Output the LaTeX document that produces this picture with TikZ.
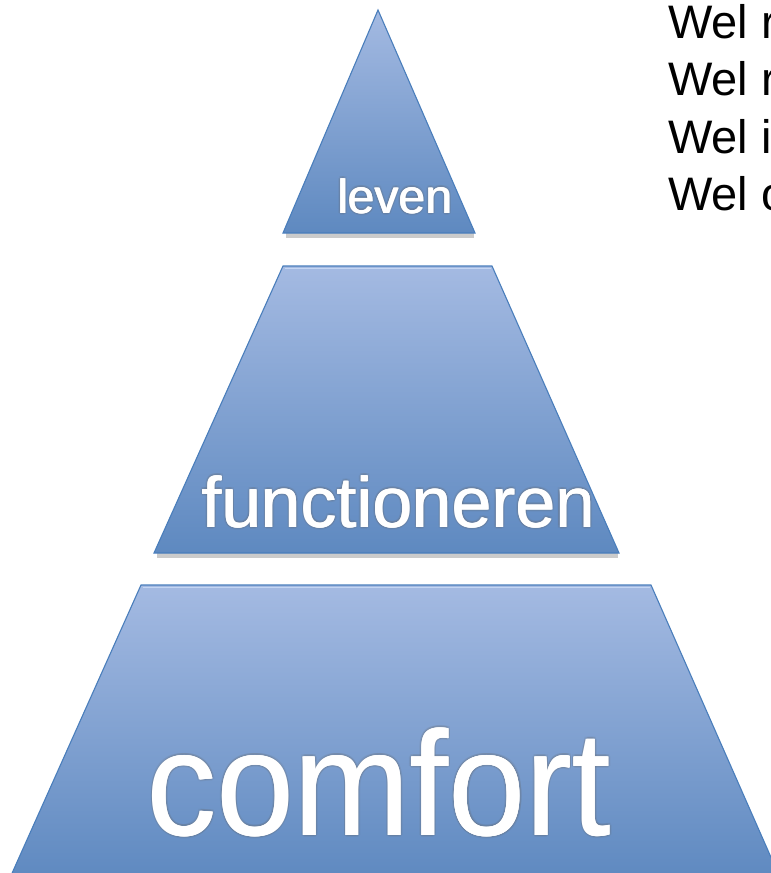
\documentclass[tikz,border=0pt]{standalone}
\usepackage{fontspec}
\setmainfont{Liberation Sans}
\usetikzlibrary{calc}
\definecolor{blueTop}{RGB}{164,186,226}
\definecolor{blueBot}{RGB}{94,137,192}
\definecolor{blueEdge}{RGB}{74,126,187}
\definecolor{blueHi}{RGB}{196,214,243}
\tikzset{
  layer/.style={top color=blueTop, bottom color=blueBot, draw=blueEdge, line width=1.1pt, line join=miter},
  layershadow/.style={fill=black!45, opacity=0.45},
  label/.style={inner sep=0pt, anchor=base, text=white},
  glow/.style={inner sep=0pt, anchor=base, text=black!60, opacity=0.12},
  thick label/.style={inner sep=0pt, anchor=base, text=white},
  side/.style={inner sep=0pt, anchor=base west, text=black, font=\fontsize{47}{56}\selectfont}
}
\newcommand{\glowlabel}[4]{% name, position, font, text
  \foreach \dx/\dy in {-2/0,2/0,0/-2,0/2,-1.5/-1.5,1.5/1.5,-1.5/1.5,1.5/-1.5}{
    \node[glow, font=#3] at ($(#2)+(\dx,\dy)$) {#4};
  }
  \foreach \dx/\dy in {-0.4/0,0.4/0}{
    \node[thick label, font=#3] at ($(#2)+(\dx,\dy)$) {#4};
  }
  \node[label, font=#3] (#1) at (#2) {#4};
}
\begin{document}
\begin{tikzpicture}[x=1pt, y=-1pt]
\useasboundingbox (0,0) rectangle (771,873);
\begin{scope}
\clip (0,0) rectangle (771,873);
% shadows
\fill[layershadow] (286,233) rectangle (474,238);
\fill[layershadow] (157,553) rectangle (618,558);
% top triangle
\draw[layer] (378,10) -- (475,233) -- (283,233) -- cycle;
% middle trapezoid
\draw[layer] (283,266) -- (492,266) -- (619,553) -- (154,553) -- cycle;
\draw[blueHi, line width=1.4pt] (284.5,268.5) -- (490.5,268.5);
% bottom trapezoid
\draw[layer] (141,585) -- (651,585) -- (781,880) -- (9,880) -- cycle;
\draw[blueHi, line width=1.4pt] (142.5,587.5) -- (649.5,587.5);
% labels
\coordinate (pl) at (395,213);
\coordinate (pf) at (398.5,527);
\coordinate (pc) at (379,835);
\glowlabel{leven}{pl}{\fontsize{48}{48}\selectfont}{leven}
\glowlabel{functioneren}{pf}{\fontsize{71.5}{72}\selectfont}{functioneren}
\glowlabel{comfort}{pc}{\fontsize{139}{140}\selectfont}{\scalebox{1}[1.07]{comfort}}
% side text
\node[side] (w1) at (668,38) {Wel r};
\node[side] (w2) at (668,95.5) {Wel r};
\node[side] (w3) at (668,153) {Wel i};
\node[side] (w4) at (668,210.5) {Wel o};
\end{scope}
\end{tikzpicture}
\end{document}
